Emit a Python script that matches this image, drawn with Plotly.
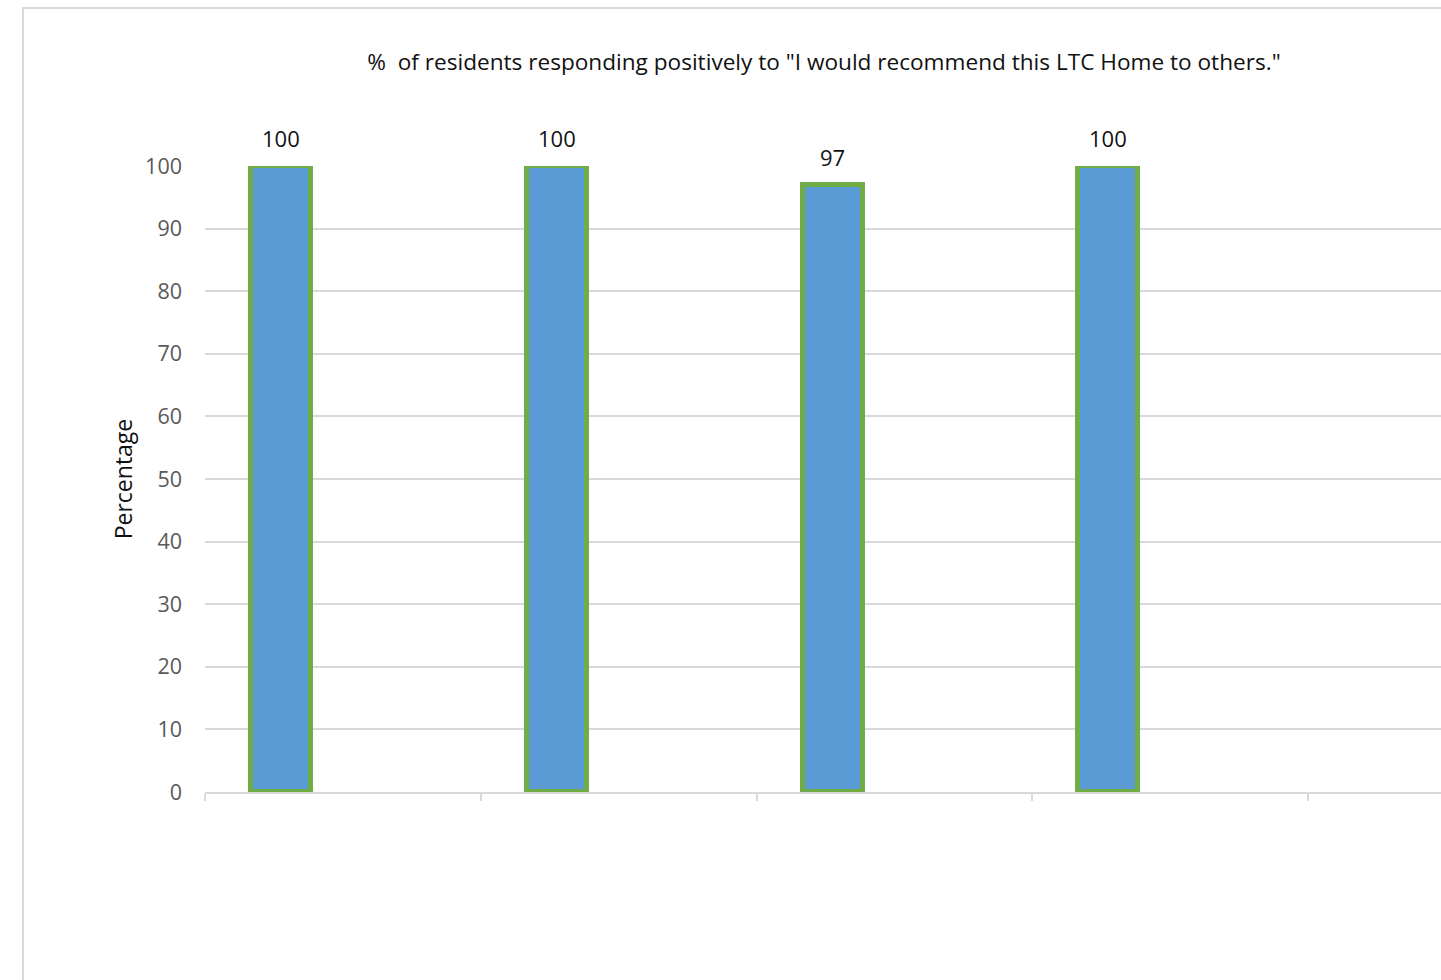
import numpy as np
import plotly.graph_objects as go

# Survey result per reporting period (no category labels shown on the axis)
values = [100, 100, 97, 100]
y_ticks = [0, 10, 20, 30, 40, 50, 60, 70, 80, 90, 100]
title_text = "%\u00a0 of residents responding positively to \"I would recommend this LTC Home to others.\""
y_title = "Percentage"

FONT = "Open Sans"
BAR_FILL = "#5b9bd5"
BAR_EDGE = "#70ad47"
GRID = "#d9d9d9"

# Each category occupies one unit slot; the bar sits left of slot centre
# (first bar of a three-bar cluster, 150% gap width).
BAR_WIDTH = 0.218
BAR_OFFSET = 0.276
slots = np.arange(len(values))
x_pos = slots + BAR_OFFSET

W, H = 1441, 980
L, T, B = 205, 166, 188
plot_w, plot_h = W - L, H - T - B
slot_px = 275.75
x_max = plot_w / slot_px

fig = go.Figure()
fig.add_trace(go.Bar(
    x=x_pos, y=values, width=BAR_WIDTH,
    marker=dict(color=BAR_FILL, line=dict(color=BAR_EDGE, width=5)),
    cliponaxis=False, hoverinfo="x+y", showlegend=False,
))

# Value labels above each bar
for xp, v in zip(x_pos, values):
    fig.add_annotation(
        x=xp, y=v, text=str(v), showarrow=False,
        xanchor="center", yanchor="bottom", yshift=11,
        font=dict(family=FONT, size=22, color="#111111"),
    )

def px_to_paper_x(px):
    return (px - L) / plot_w

def px_to_paper_y(py):
    return (H - B - py) / plot_h

# Chart frame
fig.add_shape(
    type="rect", xref="paper", yref="paper",
    x0=px_to_paper_x(23), y0=px_to_paper_y(1200),
    x1=px_to_paper_x(1700), y1=px_to_paper_y(8),
    line=dict(color=GRID, width=2), fillcolor="rgba(0,0,0,0)", layer="below",
)

fig.update_layout(
    width=W, height=H,
    margin=dict(l=L, r=0, t=T, b=B, pad=0),
    paper_bgcolor="white", plot_bgcolor="white",
    bargap=0,
    title=dict(
        text=title_text, xref="container", yref="container",
        x=824 / W, y=1 - 62 / H, xanchor="center", yanchor="middle",
        font=dict(family=FONT, size=22.6, color="#111111"),
    ),
    font=dict(family=FONT),
)
fig.update_xaxes(
    range=[0, x_max], tickmode="array", tickvals=list(range(0, 6)),
    showticklabels=False, ticks="outside", ticklen=7, tickcolor=GRID, tickwidth=1.5,
    showline=True, linecolor=GRID, linewidth=1.5, showgrid=False, zeroline=False,
)
fig.update_yaxes(
    range=[0, 100], tickmode="array", tickvals=y_ticks,
    tickfont=dict(family=FONT, size=21.5, color="#595959"),
    ticks="", ticklabelstandoff=22,
    showgrid=True, gridcolor=GRID, gridwidth=1.5, zeroline=False, showline=False,
    title=dict(text=y_title, standoff=6, font=dict(family=FONT, size=23, color="#111111")),
)

fig.write_html("out.html")
